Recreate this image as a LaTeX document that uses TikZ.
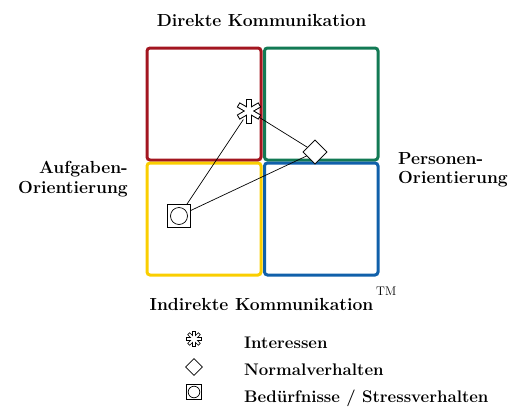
\documentclass[tikz,border=0pt]{standalone}
\usetikzlibrary{shapes.geometric,calc}
\definecolor{qred}{RGB}{163,22,32}
\definecolor{qgreen}{RGB}{18,122,84}
\definecolor{qyellow}{RGB}{250,206,0}
\definecolor{qblue}{RGB}{16,96,170}
\begin{document}
\begin{tikzpicture}[x=1pt,y=-1pt,
  quad/.style={line width=3pt,rounded corners=3pt},
  head/.style={font=\fontsize{17.5}{20}\selectfont\bfseries,inner sep=0pt},
  legtext/.style={font=\fontsize{16.8}{18}\selectfont\bfseries,inner sep=0pt,anchor=base west},
  link/.style={line width=0.7pt},
  dia/.style={diamond,draw,fill=white,line width=0.7pt,inner sep=0pt},
  sq/.style={rectangle,draw,fill=white,line width=0.7pt,inner sep=0pt},
  spot/.style={circle,inner sep=0pt}]
\useasboundingbox (0,0) rectangle (525,410);
% quadrants
\draw[quad,qred] (147,48) rectangle (261,160);
\draw[quad,qgreen] (264.5,48) rectangle (378,160);
\draw[quad,qyellow] (147,163) rectangle (261,275);
\draw[quad,qblue] (264.5,163) rectangle (378,275);
% labels
\node[head,anchor=base] (top) at (261.5,26) {Direkte Kommunikation};
\node[head,anchor=base] (bottom) at (261.5,310) {Indirekte Kommunikation};
\node[inner sep=0pt,anchor=base west,font=\fontsize{12.5}{14}\selectfont] (tm) at (376,295) {TM};
\node[head,anchor=base east] (left1) at (128,173) {Aufgaben-};
\node[head,anchor=base east] (left2) at (128,193) {Orientierung};
\node[head,anchor=base west] (right1) at (398,164) {Personen-};
\node[head,anchor=base west] (right2) at (398,183) {Orientierung};
% markers
\node[spot,minimum size=20pt] (ast) at (249,111) {};
\node[dia,minimum size=24pt] (nv) at (315,152) {};
\node[sq,minimum size=23pt] (st) at (179,216) {};
\draw[link] (st) -- (ast);
\draw[link] (st) -- (nv);
\draw[link] (ast) -- (nv);
\node[dia,minimum size=24pt] at (nv) {};
\node[sq,minimum size=23pt] at (st) {};
\draw[line width=0.7pt] (st.center) circle (8.5);
\foreach \a in {90,30,-30} {
  \draw[line width=5.6pt] ($(ast.center)+(\a:12.5)$) -- ($(ast.center)+(\a+180:12.5)$);
}
\foreach \a in {90,30,-30} {
  \draw[line width=3.6pt,white] ($(ast.center)+(\a:11.5)$) -- ($(ast.center)+(\a+180:11.5)$);
}
% legend
\node[spot,minimum size=14pt] (lgast) at (194,339) {};
\foreach \a in {0,45,90,135} {
  \draw[line width=3.4pt] ($(lgast.center)+(\a:7.8)$) -- ($(lgast.center)+(\a+180:7.8)$);
}
\foreach \a in {0,45,90,135} {
  \draw[line width=1.8pt,white] ($(lgast.center)+(\a:7)$) -- ($(lgast.center)+(\a+180:7)$);
}
\node[dia,minimum size=17pt] (lgdia) at (194,367) {};
\node[sq,minimum size=15pt] (lgsq) at (194,392) {};
\draw[line width=0.7pt] (lgsq.center) circle (5.8);
\node[legtext] (l1) at (244,348) {Interessen};
\node[legtext] (l2) at (244,375) {Normalverhalten};
\node[legtext] (l3) at (244,402) {Bedürfnisse / Stressverhalten};
\end{tikzpicture}
\end{document}
